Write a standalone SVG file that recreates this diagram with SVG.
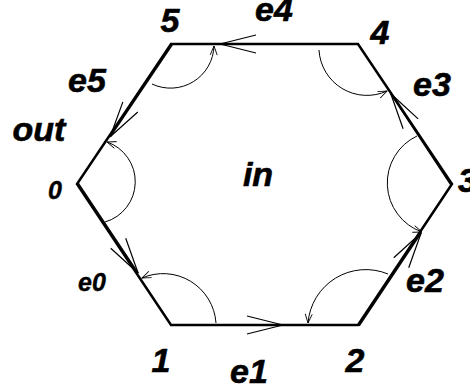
<svg xmlns="http://www.w3.org/2000/svg" width="470" height="390" viewBox="0 0 470 390">
<defs>
<marker id="big" markerUnits="userSpaceOnUse" viewBox="-40 -12 44 24" markerWidth="44" markerHeight="24" refX="0" refY="0" orient="auto" overflow="visible">
<path d="M-36,-9 L0,0 L-36,9" fill="none" stroke="#000" stroke-width="1.2"/>
</marker>
<marker id="small" markerUnits="userSpaceOnUse" viewBox="-12 -6 14 12" markerWidth="14" markerHeight="12" refX="0" refY="0" orient="auto" overflow="visible">
<path d="M-9,-3.5 L0,0 L-9,3.5" fill="none" stroke="#000" stroke-width="0.9"/>
</marker>
</defs>
<style>
.lbl{font-family:"Liberation Sans",Arial,Helvetica,sans-serif;font-weight:bold;font-style:italic;font-size:34px;fill:#000;stroke:#000;stroke-width:0.6;text-anchor:middle}
.sm{font-size:25px;stroke-width:0.4}
.edge{fill:none;stroke:#000;stroke-width:2.5;stroke-linejoin:miter}
.shaft{fill:none;stroke:#000;stroke-width:1.5;marker-end:url(#big)}
.arc{fill:none;stroke:#000;stroke-width:1;marker-end:url(#small)}
</style>
<rect width="470" height="390" fill="#fff"/>
<g id="connectors">
<path class="edge" d="M77,184 L171,325 L358,325 L452,184 L358,44 L171,44 Z"/>
<g id="e0"><path class="shaft" d="M78.2,183.2 L138.2,273.2"/><text class="lbl sm" x="92" y="291">e0</text></g>
<g id="e1"><path class="shaft" d="M171,325 L283,325"/><text class="lbl" x="249" y="383">e1</text></g>
<g id="e2"><path class="shaft" d="M359.2,325.8 L421.2,232.8"/><text class="lbl" x="425" y="292">e2</text></g>
<g id="e3"><path class="shaft" d="M450.8,184.8 L390.8,93.8"/><text class="lbl" x="432" y="96">e3</text></g>
<g id="e4"><path class="shaft" d="M358,44 L220,44"/><text class="lbl" x="274" y="21">e4</text></g>
<g id="e5"><path class="shaft" d="M172.2,44.8 L110.2,136.8"/><text class="lbl" x="87" y="92">e5</text></g>
</g>
<g id="v0"><path class="arc" d="M105,222 A42,42 0 0 0 107,142"/><text class="lbl sm" x="55" y="199">0</text></g>
<g id="v1"><path class="arc" d="M216,323 A53,53 0 0 0 142,278"/><text class="lbl" x="161" y="372">1</text></g>
<g id="v2"><path class="arc" d="M388,274 A58,58 0 0 0 308,323"/><text class="lbl" x="355" y="372">2</text></g>
<g id="v3"><path class="arc" d="M417,136 A52,52 0 0 0 422,232"/><text class="lbl" x="458" y="192" style="text-anchor:start">3</text></g>
<g id="v4"><path class="arc" d="M319,50 A48,48 0 0 0 387,91"/><text class="lbl" x="380" y="44">4</text></g>
<g id="v5"><path class="arc" d="M152,84 A43.5,43.5 0 0 0 214,46"/><text class="lbl" x="170" y="32">5</text></g>
<text class="lbl" x="39" y="141">out</text>
<text class="lbl" x="258" y="186">in</text>
</svg>
